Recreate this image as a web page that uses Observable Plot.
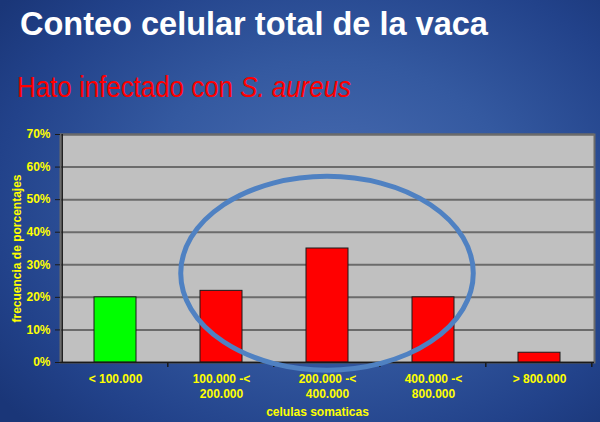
<!DOCTYPE html>
<html><head><meta charset="utf-8">
<script src="https://cdn.jsdelivr.net/npm/d3@7"></script>
<script src="https://cdn.jsdelivr.net/npm/@observablehq/plot@0.6"></script>
<style>
html,body{margin:0;padding:0;background:#1a3678;}
#page{position:relative;width:600px;height:422px;overflow:hidden;
  background:radial-gradient(ellipse 70% 75% at 55% 48%, #4a6db2 0%, #3459a0 45%, #22428a 80%, #1a3678 100%);
  font-family:"Liberation Sans",Arial,sans-serif;}
#title{position:absolute;left:20px;top:7px;color:#fff;font-weight:bold;font-size:33px;line-height:33px;white-space:nowrap;transform:scaleX(0.985);transform-origin:0 0;}
#sub{position:absolute;left:17px;top:73px;color:#ff0000;font-size:29px;line-height:29px;white-space:nowrap;transform:scaleX(0.893);transform-origin:0 0;}
#chart{position:absolute;left:0;top:122px;}
</style></head>
<body>
<div id="page">
  <div id="title">Conteo celular total de la vaca</div>
  <div id="sub">Hato infectado con <i>S. aureus</i></div>
  <div id="chart"></div>
</div>
<script>
const categories = ["< 100.000", "100.000 -<\n200.000", "200.000 -<\n400.000", "400.000 -<\n800.000", "> 800.000"];
const values = [0.20, 0.22, 0.35, 0.20, 0.03];
const colors = ["#00ff00", "#ff0000", "#ff0000", "#ff0000", "#ff0000"];
const yTicks = [0, 0.1, 0.2, 0.3, 0.4, 0.5, 0.6, 0.7];
const xLabel = "celulas somaticas";
const yLabel = "frecuencia de porcentajes";
// annotation ellipse: centered on a category, vertical extent in data units, horizontal half-width in band steps
const ellipseCategory = [categories[2]];
const ellipseYExtent = [-0.025, 0.57];
const ellipseHalfWidthSteps = [1.38];

const data = categories.map((c, i) => ({c, v: values[i], col: colors[i]}));

const plot = Plot.plot({
  width: 600, height: 300,
  marginLeft: 60, marginRight: 6, marginTop: 12, marginBottom: 60,
  style: {background: "transparent", fontFamily: "'Liberation Sans', Arial, sans-serif", fontSize: "12px", fontWeight: "bold", color: "#ffff00", overflow: "visible"},
  color: {type: "identity"},
  x: {domain: categories, paddingInner: 0.6, paddingOuter: 0.3},
  y: {domain: [0, 0.7]},
  marks: [
    Plot.frame({fill: "#c0c0c0", stroke: "#6b6b6b", strokeWidth: 2}),
    Plot.ruleY(yTicks.slice(1), {stroke: "#6b6b6b", strokeWidth: 2}),
    Plot.barY(data, {x: "c", y: "v", fill: "col", stroke: "#1a1a1a", strokeWidth: 1}),
    Plot.ruleY([0], {stroke: "#1a1a1a", strokeWidth: 1.5}),
    Plot.axisY({ticks: yTicks, tickFormat: d3.format(".0%"), tickSize: 5, tickPadding: 5,
      stroke: "#1a1a1a", fill: "#ffff00", label: yLabel, labelAnchor: "center", labelArrow: "none", labelOffset: 48}),
    Plot.axisX({tickSize: 0, tickPadding: 11, fill: "#ffff00", lineHeight: 1.17, label: null}),
    Plot.text([xLabel], {frameAnchor: "bottom", dy: 53, dx: -10, fill: "#ffff00", fontWeight: "bold", fontSize: 12})
  ]
});
document.getElementById("chart").appendChild(plot);

// left axis line, band-boundary ticks, and the annotation ellipse, from the plot's scales
const sx = plot.scale("x"), sy = plot.scale("y");
const svg = d3.select(plot);
const y0 = sy.apply(0), yTop = sy.apply(0.7);
const outer = sx.step * 0.3;
const x0 = sx.apply(categories[0]) - outer;
svg.append("line").attr("x1", x0).attr("x2", x0).attr("y1", yTop).attr("y2", y0).attr("stroke", "#1a1a1a").attr("stroke-width", 1.5);
const bounds = categories.map(c => sx.apply(c) + sx.bandwidth + outer);
bounds.forEach(b => svg.append("line").attr("x1", b).attr("x2", b).attr("y1", y0).attr("y2", y0 + 5).attr("stroke", "#1a1a1a").attr("stroke-width", 1.5));

const cx = sx.apply(ellipseCategory[0]) + sx.bandwidth / 2;
const eyA = sy.apply(ellipseYExtent[0]), eyB = sy.apply(ellipseYExtent[1]);
svg.append("ellipse").attr("cx", cx).attr("cy", (eyA + eyB) / 2)
  .attr("rx", ellipseHalfWidthSteps[0] * sx.step).attr("ry", Math.abs(eyA - eyB) / 2)
  .attr("fill", "none").attr("stroke", "#4f81c2").attr("stroke-width", 5);
</script>
</body></html>
